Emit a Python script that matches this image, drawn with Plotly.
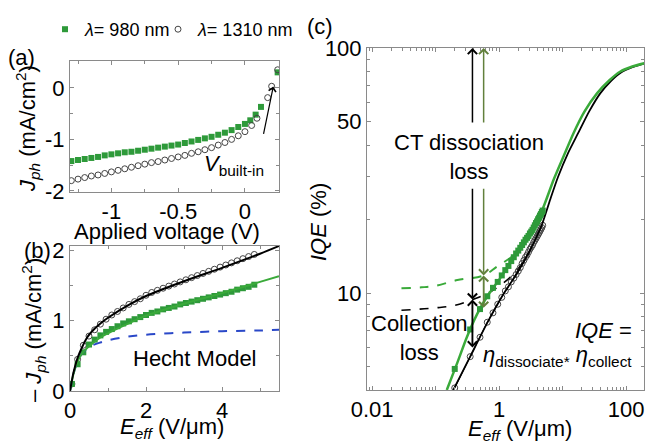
import math
import plotly.graph_objects as go

# ---------------- data ----------------
# (a) photocurrent vs applied voltage
V_980_a = [-1.30, -1.25, -1.20, -1.15, -1.10, -1.05, -1.00, -0.95, -0.90, -0.85, -0.80, -0.75,
           -0.70, -0.65, -0.60, -0.55, -0.50, -0.45, -0.40, -0.35, -0.30, -0.25, -0.20, -0.15,
           -0.10, -0.05, 0.00, 0.04, 0.08, 0.12, 0.245]
J_980_a = [-1.42, -1.40, -1.38, -1.36, -1.34, -1.31, -1.29, -1.27, -1.25, -1.24, -1.22, -1.20,
           -1.18, -1.16, -1.14, -1.12, -1.10, -1.07, -1.04, -1.01, -0.98, -0.95, -0.91, -0.87,
           -0.82, -0.76, -0.70, -0.63, -0.52, -0.37, 0.30]
V_1310_a = [-1.30, -1.25, -1.20, -1.15, -1.10, -1.05, -1.00, -0.95, -0.90, -0.85, -0.80, -0.75,
            -0.70, -0.65, -0.60, -0.55, -0.50, -0.45, -0.40, -0.35, -0.30, -0.25, -0.20, -0.15,
            -0.10, -0.05, 0.00, 0.05, 0.09, 0.17, 0.20, 0.245]
J_1310_a = [-1.80, -1.77, -1.74, -1.71, -1.69, -1.66, -1.63, -1.60, -1.57, -1.54, -1.51, -1.48,
            -1.45, -1.43, -1.40, -1.37, -1.34, -1.31, -1.27, -1.24, -1.20, -1.16, -1.11, -1.06,
            -1.00, -0.93, -0.85, -0.73, -0.59, -0.19, 0.03, 0.35]
V_builtin = [0.137, 0.212]      # arrow tail / head voltage
J_builtin = [-0.92, 0.025]

# (b) -Jph vs effective field
E_b = [0.05, 0.20, 0.35, 0.50, 0.65, 0.80, 0.95, 1.10, 1.25, 1.40, 1.55, 1.70, 1.85, 2.00, 2.15,
       2.30, 2.45, 2.60, 2.75, 2.90, 3.05, 3.20, 3.35, 3.50, 3.65, 3.80, 3.95, 4.10, 4.25, 4.40,
       4.55, 4.70, 4.85]
J_1310_b = [0.10, 0.45, 0.65, 0.78, 0.87, 0.95, 1.02, 1.08, 1.13, 1.18, 1.23, 1.27, 1.31, 1.36,
            1.40, 1.43, 1.46, 1.49, 1.52, 1.55, 1.58, 1.61, 1.64, 1.67, 1.70, 1.73, 1.76, 1.79,
            1.82, 1.85, 1.88, 1.91, 1.94]
J_980_b = [0.10, 0.38, 0.55, 0.66, 0.73, 0.79, 0.84, 0.88, 0.92, 0.96, 0.99, 1.02, 1.05, 1.08,
           1.11, 1.13, 1.16, 1.18, 1.20, 1.23, 1.25, 1.27, 1.29, 1.31, 1.33, 1.35, 1.37, 1.39,
           1.41, 1.44, 1.46, 1.48, 1.51]
E_fit = [0, 0.05, 0.1, 0.2, 0.3, 0.45, 0.6, 0.8, 1.0, 1.5, 2.0, 3.0, 4.0, 5.0, 5.5]
J_1310_fit = [0, 0.15, 0.28, 0.47, 0.60, 0.76, 0.86, 0.96, 1.04, 1.21, 1.35, 1.56, 1.75, 1.95, 2.06]
J_980_fit = [0, 0.14, 0.26, 0.42, 0.52, 0.61, 0.68, 0.76, 0.82, 0.95, 1.07, 1.24, 1.39, 1.55, 1.63]
J_hecht = [0, 0.14, 0.26, 0.42, 0.52, 0.60, 0.65, 0.69, 0.72, 0.77, 0.80, 0.83, 0.85, 0.86, 0.87]

# (c) IQE vs effective field (log-log)
E_c = [0.20, 0.35, 0.50, 0.65, 0.80, 0.95, 1.10, 1.25, 1.40, 1.55, 1.70, 1.85, 2.00, 2.15, 2.30,
       2.45, 2.60, 2.75, 2.90, 3.05, 3.20, 3.35, 3.50, 3.65, 3.80, 3.95, 4.10, 4.25, 4.40, 4.55,
       4.70, 4.85]
IQE_980_c = [4.9, 7.1, 8.6, 9.7, 10.5, 11.1, 11.8, 12.4, 12.9, 13.5, 14.0, 14.5, 14.9, 15.3, 15.7,
             16.1, 16.5, 16.8, 17.1, 17.5, 17.8, 18.1, 18.5, 18.9, 19.3, 19.6, 20.0, 20.3, 20.7,
             21.0, 21.4, 21.7]
IQE_1310_c = [4.1, 5.5, 6.6, 7.6, 8.3, 9.0, 9.6, 10.2, 10.6, 11.1, 11.5, 11.9, 12.3, 12.7, 13.2,
              13.6, 14.0, 14.3, 14.7, 15.1, 15.4, 15.7, 16.1, 16.4, 16.7, 17.0, 17.3, 17.6, 17.9,
              18.2, 18.5, 18.9]
E_fit980_c = [0.15, 0.22, 0.31, 0.45, 0.65, 1.04, 1.9, 3.3, 5.0, 7.2, 10.5, 14.8, 22, 34.7, 55, 80, 125, 192]
IQE_fit980_c = [4.02, 5.2, 6.6, 8.2, 9.7, 11.5, 14.6, 18.0, 22.5, 29.0, 36.5, 44.9, 55.0, 65.3, 74.0, 80.0, 84.0, 86.6]
E_fit1310_c = [0.19, 0.35, 0.64, 1.17, 1.9, 3.0, 4.7, 6.5, 8.5, 12.0, 17.5, 26, 39, 58, 83, 125, 192]
IQE_fit1310_c = [4.02, 5.5, 7.5, 9.9, 12.0, 14.8, 19.0, 24.5, 29.9, 37.0, 44.9, 55.0, 65.3, 73.5, 79.5, 83.5, 86.4]
E_diss980 = [0.029, 0.06, 0.10, 0.22, 0.57, 0.92, 1.49, 1.9]
IQE_diss980 = [10.45, 10.55, 10.7, 11.3, 11.8, 12.8, 13.9, 14.6]
E_diss1310 = [0.029, 0.10, 0.20, 0.38, 0.72, 1.49, 2.6, 3.4]
IQE_diss1310 = [8.5, 8.7, 8.9, 9.4, 10.1, 11.6, 13.8, 15.8]
E_arrow = [0.38, 0.57]             # black (1310 nm) and olive (980 nm) loss arrows
IQE_arrow_diss = [9.4, 11.8]       # dissociation level (X marks)
IQE_arrow_meas = [6.0, 8.7]        # measured IQE level
IQE_arrow_top = [100, 100]
IQE_arrow_topstart = [49, 49]
IQE_arrow_lowstart = [27, 27]

# ---------------- styling ----------------
W, H = 649, 446
def fx(p):
    return p / W
def fy(p):
    return 1 - p / H

GREEN = '#2e9a3a'
GREEN_LINE = '#3aaa3a'
BLUE = '#2a48c8'
OLIVE = '#62803c'
GREY = '#444444'
AX = '#8a8a8a'
FONT = 'Liberation Sans, Arial, sans-serif'
FS = 22

fig = go.Figure()

# (a)
fig.add_trace(go.Scatter(x=V_980_a, y=J_980_a, mode='markers', name='<i>λ</i>= 980 nm',
                         legend='legend',
                         marker=dict(symbol='square', size=6, color=GREEN),
                         xaxis='x', yaxis='y'))
fig.add_trace(go.Scatter(x=V_1310_a, y=J_1310_a, mode='markers', name='<i>λ</i>= 1310 nm',
                         legend='legend2',
                         marker=dict(symbol='circle-open', size=6, color=GREY, line=dict(width=1)),
                         xaxis='x', yaxis='y'))

# (b)
fig.add_trace(go.Scatter(x=E_b, y=J_1310_b, mode='markers', showlegend=False,
                         marker=dict(symbol='circle-open', size=6, color=GREY, line=dict(width=1)),
                         xaxis='x2', yaxis='y2'))
fig.add_trace(go.Scatter(x=E_b, y=J_980_b, mode='markers', showlegend=False,
                         marker=dict(symbol='square', size=6, color=GREEN),
                         xaxis='x2', yaxis='y2'))
fig.add_trace(go.Scatter(x=E_fit, y=J_hecht, mode='lines', showlegend=False,
                         line=dict(color=BLUE, width=2, dash='dash', shape='spline'),
                         xaxis='x2', yaxis='y2'))
fig.add_trace(go.Scatter(x=E_fit, y=J_980_fit, mode='lines', showlegend=False,
                         line=dict(color=GREEN_LINE, width=2, shape='spline'),
                         xaxis='x2', yaxis='y2'))
fig.add_trace(go.Scatter(x=E_fit, y=J_1310_fit, mode='lines', showlegend=False,
                         line=dict(color='black', width=2, shape='spline'),
                         xaxis='x2', yaxis='y2'))

# (c)
fig.add_trace(go.Scatter(x=E_diss980, y=IQE_diss980, mode='lines', showlegend=False,
                         line=dict(color=GREEN_LINE, width=2, dash='dash', shape='spline'),
                         xaxis='x3', yaxis='y3'))
fig.add_trace(go.Scatter(x=E_diss1310, y=IQE_diss1310, mode='lines', showlegend=False,
                         line=dict(color='black', width=1.6, dash='dash', shape='spline'),
                         xaxis='x3', yaxis='y3'))
fig.add_trace(go.Scatter(x=E_c, y=IQE_1310_c, mode='markers+lines', showlegend=False,
                         line=dict(color='black', width=1),
                         marker=dict(symbol='circle-open', size=6, color=GREY, line=dict(width=1)),
                         xaxis='x3', yaxis='y3'))
fig.add_trace(go.Scatter(x=E_fit1310_c, y=IQE_fit1310_c, mode='lines', showlegend=False,
                         line=dict(color='black', width=1.8, shape='spline', smoothing=0.6),
                         xaxis='x3', yaxis='y3'))
fig.add_trace(go.Scatter(x=E_fit980_c, y=IQE_fit980_c, mode='lines', showlegend=False,
                         line=dict(color=GREEN_LINE, width=2.5, shape='spline', smoothing=0.6),
                         xaxis='x3', yaxis='y3'))
fig.add_trace(go.Scatter(x=E_c, y=IQE_980_c, mode='markers', showlegend=False,
                         marker=dict(symbol='square', size=6, color=GREEN),
                         xaxis='x3', yaxis='y3'))

common = dict(showline=True, linecolor=AX, linewidth=1, mirror='ticks', ticks='inside',
              ticklen=4, tickcolor=AX, showgrid=False, zeroline=False, automargin=False,
              tickfont=dict(size=FS, color='black', family=FONT))
def minor(vals):
    return dict(tickmode='array', tickvals=vals, ticks='inside', ticklen=3, tickcolor=AX)

log_minor_x = [k * 10 ** d for d in range(-3, 3) for k in range(2, 10)]
log_minor_y = [4, 5, 6, 7, 8, 9, 20, 30, 40, 60, 70, 80, 90]

leg = dict(orientation='h', xanchor='left', yanchor='top', font=dict(size=18),
           bgcolor='rgba(0,0,0,0)', itemwidth=30, entrywidth=140, entrywidthmode='pixels')

fig.update_layout(
    width=W, height=H, margin=dict(l=0, r=0, t=0, b=0, pad=0, autoexpand=False),
    paper_bgcolor='white', plot_bgcolor='white',
    font=dict(family=FONT, size=FS, color='black'),
    showlegend=True,
    legend=dict(x=fx(45), y=fy(11), **leg),
    legend2=dict(x=fx(158), y=fy(11), **leg),
    xaxis=dict(domain=[fx(70), fx(279)], anchor='y', range=[-1.31, 0.255],
               tickmode='array', tickvals=[-1, -0.5, 0], ticktext=['-1', '-0.5', '0'],
               minor=minor([-1.25, -0.75, -0.25]), **common),
    yaxis=dict(domain=[fy(192), fy(61)], anchor='x', range=[-2.02, 0.52],
               tickmode='array', tickvals=[-2, -1, 0], ticktext=['-2', '-1', '0'],
               minor=minor([-1.5, -0.5]), **common),
    xaxis2=dict(domain=[fx(70), fx(279)], anchor='y2', range=[0, 5.5],
                tickmode='array', tickvals=[0, 2, 4], minor=minor([1, 3, 5]), **common),
    yaxis2=dict(domain=[fy(391), fy(246)], anchor='x2', range=[0, 2.06],
                tickmode='array', tickvals=[0, 1, 2], minor=minor([0.5, 1.5]), **common),
    xaxis3=dict(domain=[fx(367), fx(644)], anchor='y3', type='log', range=[-2.08, 2.28],
                tickmode='array', tickvals=[0.01, 0.1, 1, 10, 100],
                ticktext=['0.01', '', '1', '', '100'], minor=minor(log_minor_x), **common),
    yaxis3=dict(domain=[fy(390), fy(48)], anchor='x3', type='log',
                range=[math.log10(4.02), 2],
                tickmode='array', tickvals=[10, 50, 100], ticktext=['10', '50', '100'],
                minor=minor(log_minor_y), **common),
)

ann = []
def txt(t, x, y, size=FS, angle=0, xanchor='center', yanchor='middle'):
    ann.append(dict(text=t, x=fx(x), y=fy(y), xref='paper', yref='paper', showarrow=False,
                    textangle=angle, xanchor=xanchor, yanchor=yanchor,
                    font=dict(size=size, family=FONT, color='black')))

txt('(a)', 21, 57)
txt('(b)', 37, 251)
txt('(c)', 320, 27)
txt('Applied voltage (V)', 167, 231)
txt('<i>J<sub>ph</sub></i> (mA/cm<sup>2</sup>)', 27, 129, angle=-90)
txt('– <i>J<sub>ph</sub></i> (mA/cm<sup>2</sup>)', 33, 330, angle=-90)
txt('<i>E<sub>eff</sub></i> (V/μm)', 172, 428)
txt('<i>E<sub>eff</sub></i> (V/μm)', 520, 430)
txt('<i>IQE</i> (%)', 318, 222, angle=-90)
txt('Hecht Model', 195, 358)
txt('<i>V</i><sub>built-in</sub>', 234, 165)
txt('CT dissociation<br>loss', 469, 157)
txt('Collection<br>loss', 419, 338)
txt('<i>IQE</i> =', 634, 330, xanchor='right')
txt('<i>η</i><sub>dissociate*</sub> <i>η</i><sub>collect</sub>', 634, 356, xanchor='right')

# V built-in arrow in (a)
ann.append(dict(x=V_builtin[1], y=J_builtin[1], ax=V_builtin[0], ay=J_builtin[0],
                xref='x', yref='y', axref='x', ayref='y', text='', showarrow=True,
                arrowhead=4, arrowsize=1.2, arrowwidth=1.2, arrowcolor='black'))

# loss arrows in (c)
def arrow(e, y_head, y_tail, color):
    lx = math.log10(e)
    ann.append(dict(x=lx, y=math.log10(y_head), ax=lx, ay=math.log10(y_tail),
                    xref='x3', yref='y3', axref='x3', ayref='y3', text='', showarrow=True,
                    arrowhead=4, arrowsize=1.2, arrowwidth=1.5, arrowcolor=color,
                    standoff=0, startstandoff=0))

for i, col in enumerate(['black', OLIVE]):
    arrow(E_arrow[i], IQE_arrow_top[i], IQE_arrow_topstart[i], col)
    arrow(E_arrow[i], IQE_arrow_diss[i], IQE_arrow_lowstart[i], col)
    arrow(E_arrow[i], IQE_arrow_diss[i], IQE_arrow_meas[i], col)
    arrow(E_arrow[i], IQE_arrow_meas[i], IQE_arrow_diss[i], col)

fig.update_layout(annotations=ann)
fig.write_html('out.html', config={'displayModeBar': False},
               post_script="document.body.style.margin='0';")
